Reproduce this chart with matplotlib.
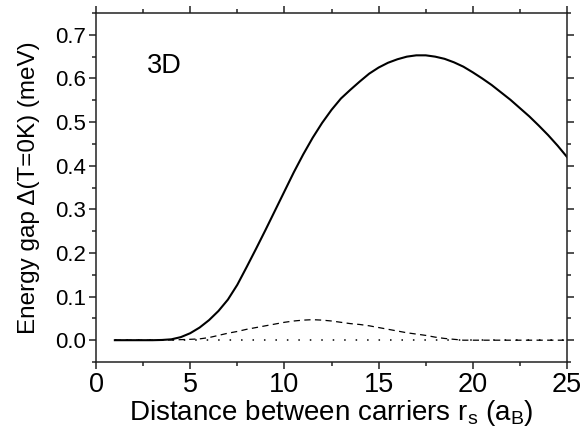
import matplotlib
matplotlib.use("Agg")
import matplotlib.pyplot as plt
from matplotlib.ticker import MultipleLocator

plt.rcParams['font.family'] = ['Liberation Sans', 'DejaVu Sans']
plt.rcParams['mathtext.fontset'] = 'custom'
plt.rcParams['mathtext.rm'] = 'Liberation Sans'
plt.rcParams['mathtext.it'] = 'Liberation Sans'
plt.rcParams['mathtext.default'] = 'regular'

# Solid curve (upper gap)
x_solid = [1, 2, 3, 3.5, 4, 4.5, 5, 5.5, 6, 6.5, 7, 7.5, 8, 8.5, 9, 9.5, 10,
           10.5, 11, 11.5, 12, 12.5, 13, 13.5, 14, 14.5, 15, 15.5, 16, 16.5,
           17, 17.5, 18, 18.5, 19, 19.5, 20, 20.5, 21, 21.5, 22, 22.5, 23,
           23.5, 24, 24.5, 25]
y_solid = [0, 0, 0, 0.0005, 0.002, 0.007, 0.016, 0.029, 0.046, 0.067, 0.093,
           0.127, 0.168, 0.21, 0.253, 0.297, 0.341, 0.385, 0.426, 0.464,
           0.498, 0.528, 0.554, 0.574, 0.593, 0.611, 0.625, 0.636, 0.644,
           0.65, 0.653, 0.653, 0.65, 0.645, 0.637, 0.627, 0.614, 0.6, 0.585,
           0.568, 0.551, 0.532, 0.513, 0.492, 0.47, 0.446, 0.42]

# Dashed curve (lower gap)
x_dash = [1, 2, 3, 4, 5, 5.5, 6, 6.5, 7, 7.5, 8, 8.5, 9, 9.5, 10, 10.5, 11,
          11.5, 12, 12.5, 13, 13.5, 14, 14.5, 15, 15.5, 16, 16.5, 17, 17.5,
          18, 18.5, 19, 19.5, 20, 21, 22, 23, 24, 25]
y_dash = [0, 0, 0, 0.0005, 0.002, 0.003, 0.006, 0.011, 0.016, 0.02, 0.025,
          0.029, 0.033, 0.037, 0.041, 0.044, 0.046, 0.047, 0.046, 0.044,
          0.041, 0.038, 0.036, 0.033, 0.029, 0.025, 0.021, 0.017, 0.014,
          0.011, 0.007, 0.004, 0.002, 0, 0, 0, 0, 0, 0, 0]

# Dotted curve (zero)
x_dot = [1, 25]
y_dot = [0, 0]

x_ticks = [0, 5, 10, 15, 20, 25]
y_ticks = [0.0, 0.1, 0.2, 0.3, 0.4, 0.5, 0.6, 0.7]

fig = plt.figure(figsize=(5.84, 4.34), dpi=100)
ax = fig.add_axes([0.1644, 0.1659, 0.8065, 0.8041])

ax.plot(x_solid, y_solid, color='black', lw=1.5)
ax.plot(x_dash, y_dash, color='black', lw=0.9, dashes=(5, 3.5))
ax.plot(x_dot, y_dot, color='black', lw=1.1, dashes=(1, 6.5))

ax.set_xlim(0, 25)
ax.set_ylim(-0.05, 0.75)
ax.set_xticks(x_ticks)
ax.set_xticklabels([str(v) for v in x_ticks])
ax.set_yticks(y_ticks)
ax.set_yticklabels([f"{v:.1f}" for v in y_ticks])
ax.xaxis.set_minor_locator(MultipleLocator(2.5))
ax.yaxis.set_minor_locator(MultipleLocator(0.05))

for s in ax.spines.values():
    s.set_linewidth(1.1)
    s.set_color('#222222')

ax.tick_params(which='both', direction='out', top=True, right=True,
               labeltop=False, labelright=False, color='#222222', width=1.1)
ax.tick_params(which='major', length=5)
ax.tick_params(which='minor', length=3)
ax.tick_params(axis='x', which='major', labelsize=19.5, pad=2)
ax.tick_params(axis='y', which='major', labelsize=16, pad=2)

ax.set_xlabel("Distance between carriers r$_{s}$ (a$_{B}$)", fontsize=20, labelpad=0)
ax.set_ylabel("Energy gap \u0394(T=0K) (meV)", fontsize=17.5, labelpad=11)

ax.text(3.65, 0.628, "3D", fontsize=19.5, ha='center', va='center')

fig.savefig("out.png", dpi=100)
